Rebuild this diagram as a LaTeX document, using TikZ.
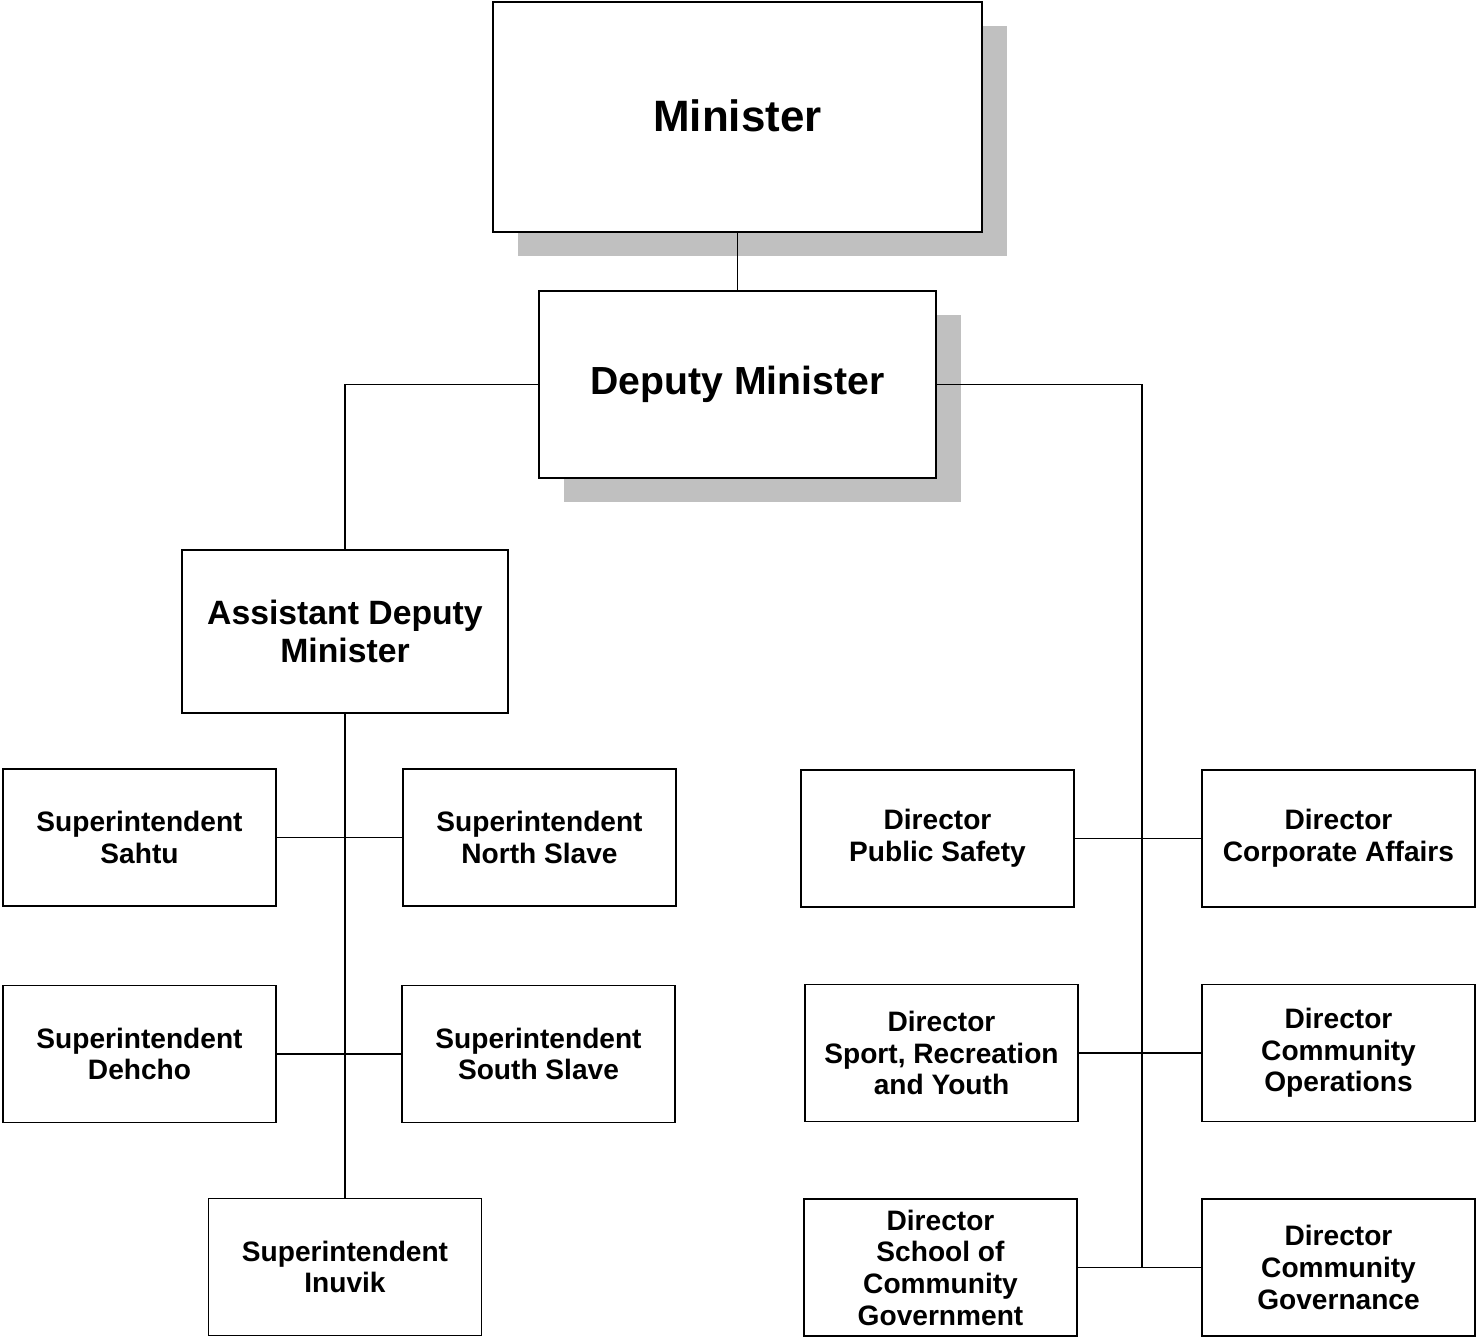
\documentclass[tikz,border=0pt]{standalone}
\usepackage{fontspec}
\setmainfont{Liberation Sans}
\usepackage{tikz}
\usetikzlibrary{positioning,shadows,calc}
\definecolor{cShade}{HTML}{C0C0C0}

\begin{document}
\begin{tikzpicture}[x=0.02cm,y=-0.02cm,font=\bfseries,
    box/.style={draw=black,fill=white,line width=0.8pt,align=center,
                inner sep=2pt},
    unitbox/.style={box,minimum width=5.46cm,minimum height=2.74cm,
                    font=\fontsize{16}{18}\selectfont\bfseries},
    shadowed/.style={drop shadow={shadow xshift=0.5cm,shadow yshift=-0.48cm,
                     fill=cShade,opacity=1}},
    link/.style={draw=black,line width=0.6pt}]
  \useasboundingbox (0,0) rectangle (1476,1336);

  % top of the chart
  \node[box,shadowed,minimum width=9.78cm,minimum height=4.6cm,
        font=\fontsize{25}{28}\selectfont\bfseries] (minister) at (737.5,117)
    {\raisebox{2pt}{Minister}};
  \node[box,shadowed,minimum width=7.94cm,minimum height=3.74cm,
        font=\fontsize{22.3}{26}\selectfont\bfseries] (deputy) at (737.5,384.5)
    {Deputy Minister};
  \node[box,minimum width=6.52cm,minimum height=3.26cm,
        font=\fontsize{19.2}{22}\selectfont\bfseries] (assistant) at (345,631.5)
    {Assistant Deputy\\Minister};

  % regions
  \node[unitbox] (sahtu)  at (139.5,837.5) {Superintendent\\Sahtu};
  \node[unitbox] (nslave) at (539.5,837.5) {Superintendent\\North Slave};
  \node[unitbox] (dehcho) at (139.5,1054)  {Superintendent\\Dehcho};
  \node[unitbox] (sslave) at (538.5,1054)  {Superintendent\\South Slave};
  \node[unitbox] (inuvik) at (345,1267)    {Superintendent\\Inuvik};

  % directorates
  \node[unitbox] (safety)    at (937.5,838.5) {Director\\Public Safety};
  \node[unitbox] (corporate) at (1338.5,838.5) {Director\\Corporate Affairs};
  \node[unitbox] (sport)     at (941.5,1053)  {Director\\Sport, Recreation\\and Youth};
  \node[unitbox] (commops)   at (1338.5,1053) {Director\\Community\\Operations};
  \node[unitbox] (school)    at (940.5,1267.5) {Director\\School of\\Community\\Government};
  \node[unitbox] (governance) at (1338.5,1267.5) {Director\\Community\\Governance};

  \coordinate (spine) at (1142,1268);

  % reporting lines
  \draw[link] (minister.south) -- (deputy.north);
  \draw[link] (deputy.west) -| (assistant.north);
  \draw[link] (deputy.east) -| (spine);
  \draw[link] (assistant.south) -- (inuvik.north);
  \draw[link] (sahtu.east) -- (nslave.west);
  \draw[link] (dehcho.east) -- (sslave.west);
  \draw[link] (safety.east) -- (corporate.west);
  \draw[link] (sport.east) -- (commops.west);
  \draw[link] (school.east) -- (governance.west);
\end{tikzpicture}
\end{document}
